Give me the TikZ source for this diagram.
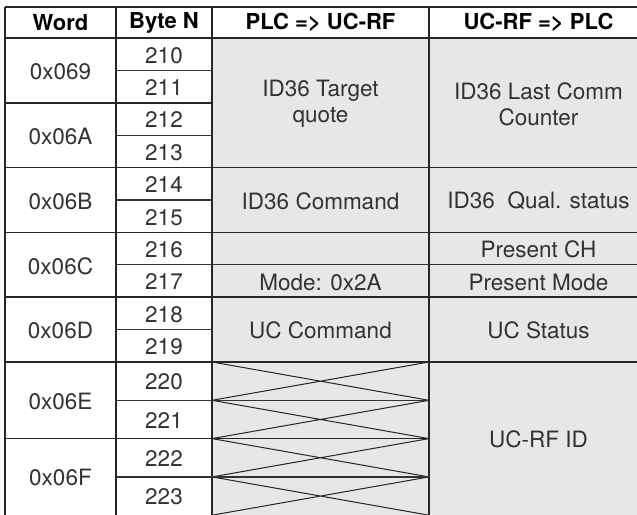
\documentclass[tikz,border=0pt]{standalone}
\usepackage{fontspec}
\setmainfont{TeX Gyre Heros}
\usetikzlibrary{positioning}
\definecolor{cellgray}{RGB}{230,231,232}
\definecolor{inkgray}{RGB}{50,50,50}

\begin{document}
\begin{tikzpicture}[x=1pt,y=-1pt,
    txt/.style={text=inkgray,font=\fontsize{22.5}{26}\selectfont,align=center,inner sep=0pt,yshift=-1pt},
    head/.style={text=black,font=\bfseries\fontsize{22}{26}\selectfont,inner sep=0pt},
    rule/.style={draw=black!85,line width=1.7pt},
    subrule/.style={draw=black!80,line width=1.3pt}]
            \useasboundingbox (0,0) rectangle (637,514);
            \clip (0,0) rectangle (637,514);

            % grey data columns
            \fill[cellgray] (212,38) rectangle (650,520);

            % crossed (unused) cells
            \foreach \t/\b in {362/400.3,400.3/438.6,438.6/476.9,476.9/515.2}
                \draw[draw=black!85,line width=1pt] (212,\t) -- (429,\b) (212,\b) -- (429,\t);

            % column lines
            \foreach \x in {5,116,212,429}
                \draw[rule] (\x,7) -- (\x,520);

            % full width rules
            \foreach \y in {7,38,167.6,232.4,297.2,362}
                \draw[rule] (5,\y) -- (650,\y);
            \draw[rule] (5,102.8) -- (212,102.8);
            \draw[rule] (5,438.6) -- (429,438.6);
            % byte dividers
            \foreach \y in {70.4,135.2,200,329.6}
                \draw[subrule] (116,\y) -- (212,\y);
            \draw[subrule] (116,264.8) -- (650,264.8);
            \foreach \y in {400.3,476.9}
                \draw[subrule] (116,\y) -- (429,\y);

            % header
            \node[head] (hword) at (60.5,22.5) {Word};
            \node[head] (hbyte) at (164,22.5) {Byte N};
            \node[head] (hplc) at (320.5,22.5) {PLC => UC-RF};
            \node[head] (huc) at (538.5,22.5) {UC-RF => PLC};

            % words
            \foreach \w/\c in {069/70.6,06A/135.2,06B/200,06C/264.8,06D/329.6,06E/400.3,06F/476.9}
                \node[txt] (w\w) at (60.5,\c) {0x\w};

            % bytes
            \foreach \n [count=\i from 0] in {210,...,219}
                \node[txt] (b\n) at (164,38+32.4*\i+16.2) {\n};
            \foreach \n [count=\i from 0] in {220,...,223}
                \node[txt] (b\n) at (164,362+38.3*\i+19.15) {\n};

            % PLC => UC-RF
            \node[txt] (target) at (320.5,102.8) {ID36 Target\\quote};
            \node[txt] (cmd) at (320.5,200) {ID36 Command};
            \node[txt] (mode) at (320.5,281) {Mode: 0x2A};
            \node[txt] (uccmd) at (320.5,329.6) {UC Command};

            % UC-RF => PLC
            \node[txt] (counter) at (538.5,102.8) {ID36 Last Comm\\Counter};
            \node[txt] (qual) at (538.5,200) {ID36~~Qual. status};
            \node[txt] (pch) at (538.5,248.6) {Present CH};
            \node[txt] (pmode) at (538.5,281) {Present Mode};
            \node[txt] (ucstat) at (538.5,329.6) {UC Status};
            \node[txt] (rfid) at (538.5,438.6) {UC-RF ID};
            \end{tikzpicture}
\end{document}
